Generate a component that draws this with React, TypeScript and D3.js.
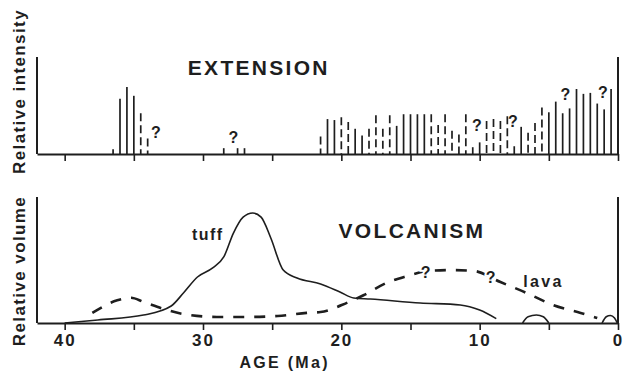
import { useEffect, useRef } from 'react';
import * as d3 from 'd3';

const WIDTH = 623;
const HEIGHT = 372;

// Extension events: age (Ma), relative intensity, uncertain record (drawn dashed)
const extensionAges = [
  36.5, 36, 35.5, 35, 34.5, 34, 28.5, 27.5, 27,
  21.5, 21, 20.5, 20, 19.5, 19, 18.5, 18, 17.5, 17,
  16.5, 16, 15.5, 15, 14.5, 14, 13.5, 13, 12.5, 12,
  11.5, 11, 10.5, 10, 9.5, 9, 8.5, 8, 7.5, 7,
  6.5, 6, 5.5, 5, 4.5, 4, 3.5, 3, 2.5, 2, 1.5, 1, 0.5,
];
const extensionIntensity = [
  5, 57, 69, 60, 42, 16, 6, 6, 6,
  18, 36, 35, 38, 33, 26, 19, 26, 40, 26,
  40, 29, 41, 41, 41, 41, 41, 30, 41, 24,
  20, 41, 7, 12, 34, 36, 34, 39, 8, 28,
  22, 32, 48, 43, 54, 42, 47, 67, 62, 63, 52, 46, 67,
];
const extensionUncertain = [
  0, 0, 0, 0, 1, 1, 0, 0, 0,
  1, 0, 0, 1, 1, 0, 0, 1, 1, 1,
  1, 0, 0, 0, 0, 0, 1, 1, 1, 1,
  1, 1, 0, 0, 1, 1, 1, 1, 0, 0,
  1, 1, 1, 0, 0, 0, 0, 0, 0, 0, 0, 0, 0,
];
// "?" marks over the extension record: [age, intensity]
const extensionQueries: [number, number][] = [
  [33.4, 22], [27.8, 17], [10.2, 29], [7.6, 34], [3.8, 61], [1.1, 63],
];

// Volcanism: tuff (solid) and lava (dashed), relative volume
const tuffAges = [40, 37.6, 34.3, 32.3, 31.4, 30.4, 29.3, 28.5, 27.8, 27.1, 26.4, 25.8, 25.1, 24.2, 23.2, 21.5, 20.1, 19.1, 17.9, 14.3, 11.4, 10, 8.8];
const tuffVolume = [0, 2.4, 6.3, 13.5, 24, 36.5, 43.7, 52.4, 71.4, 84, 87.3, 84, 67.5, 42, 35.7, 31, 24.6, 19.8, 19, 15.9, 14.3, 10.3, 3.5];

const lavaAges = [38, 36.2, 35.2, 34.3, 32.8, 31.4, 29, 26.8, 24.6, 22.5, 21.5, 19.6, 18.4, 16.7, 15.3, 13.6, 11.9, 10.4, 8.5, 6.6, 4.7, 2.7, 1.5];
const lavaVolume = [8, 18, 20, 16.7, 11, 7, 4.8, 4.8, 5.6, 8, 8.7, 16, 22, 32, 37, 41.5, 42, 41.3, 32.5, 23.8, 14.3, 8, 4];

// small young flows (solid arcs)
const flowA_Ages = [6.9, 6.5, 5.9, 5.4, 5.0];
const flowA_Volume = [0, 5, 6.3, 5, 0];
const flowB_Ages = [1.15, 0.85, 0.55, 0.25, 0.05];
const flowB_Volume = [0, 5, 6, 4, 0];

const volcanismQueries: [number, number][] = [[13.9, 40], [9.2, 36]];

const ageTicks = [40, 35, 30, 25, 20, 15, 10, 5, 0];
const ageLabels = [40, 30, 20, 10, 0];

const FONT = '"Liberation Sans", Arial, Helvetica, sans-serif';
const INK = '#1e1e1e';

export default function App() {
  const svgRef = useRef<SVGSVGElement>(null);

  useEffect(() => {
    if (!svgRef.current) return;
    const svg = d3.select(svgRef.current);
    svg.selectAll('*').remove();

    const x = d3.scaleLinear().domain([42, 0]).range([37, 618]);
    const yTop = d3.scaleLinear().domain([0, 100]).range([154, 57]);
    const yBot = d3.scaleLinear().domain([0, 100]).range([323, 197]);

    // ---------- top panel: EXTENSION ----------
    const top = svg.append('g');

    top
      .selectAll('.bar')
      .data(extensionAges.map((a, i) => ({ age: a, v: extensionIntensity[i], u: extensionUncertain[i] })))
      .enter()
      .append('line')
      .attr('x1', (d) => x(d.age))
      .attr('x2', (d) => x(d.age))
      .attr('y1', (d) => yTop(d.v))
      .attr('y2', yTop(0))
      .style('stroke', INK)
      .style('stroke-width', 1.7)
      .style('stroke-dasharray', (d) => (d.u ? '8,4' : null));

    const topAxis = top
      .append('g')
      .attr('transform', `translate(0, ${yTop(0)})`)
      .call(d3.axisBottom(x).tickValues(ageTicks).tickSize(7).tickSizeOuter(0).tickFormat(() => ''));
    topAxis.select('.domain').style('stroke', INK).style('stroke-width', 2);
    topAxis.selectAll('.tick line').style('stroke', INK).style('stroke-width', 1.6);

    // side frame lines
    [x.range()[0], x.range()[1]].forEach((px) => {
      top
        .append('line')
        .attr('x1', px)
        .attr('x2', px)
        .attr('y1', yTop(100))
        .attr('y2', yTop(0))
        .style('stroke', INK)
        .style('stroke-width', 2);
    });

    top
      .selectAll('.q')
      .data(extensionQueries)
      .enter()
      .append('text')
      .attr('x', (d) => x(d[0]))
      .attr('y', (d) => yTop(d[1]))
      .attr('dy', '0.35em')
      .style('text-anchor', 'middle')
      .style('font-family', FONT)
      .style('font-weight', 'bold')
      .style('font-size', '16px')
      .style('fill', INK)
      .text('?');

    top
      .append('text')
      .attr('x', x(31.1))
      .attr('y', yTop(81))
      .style('font-family', FONT)
      .style('font-weight', 'bold')
      .style('font-size', '21px')
      .style('letter-spacing', '2.3px')
      .style('fill', INK)
      .text('EXTENSION');

    top
      .append('text')
      .attr('transform', `translate(25, ${(yTop(0) + yTop(100)) / 2 - 14}) rotate(-90)`)
      .style('text-anchor', 'middle')
      .style('font-family', FONT)
      .style('font-weight', 'bold')
      .style('font-size', '17px')
      .style('letter-spacing', '1.4px')
      .style('fill', INK)
      .text('Relative intensity');

    // ---------- bottom panel: VOLCANISM ----------
    const bot = svg.append('g');

    // ages run right-to-left, so feed the curve with -age to keep x increasing
    const zip = (a: number[], b: number[]) => a.map((v, i) => [-v, b[i]] as [number, number]);
    const lineAge = d3
      .line<[number, number]>()
      .x((d) => x(-d[0]))
      .y((d) => yBot(d[1]))
      .curve(d3.curveMonotoneX);

    bot
      .append('path')
      .attr('d', lineAge(zip(lavaAges, lavaVolume)))
      .style('fill', 'none')
      .style('stroke', INK)
      .style('stroke-width', 2.6)
      .style('stroke-dasharray', '11,10');

    [
      [tuffAges, tuffVolume],
      [flowA_Ages, flowA_Volume],
      [flowB_Ages, flowB_Volume],
    ].forEach(([a, v]) => {
      bot
        .append('path')
        .attr('d', lineAge(zip(a, v)))
        .style('fill', 'none')
        .style('stroke', INK)
        .style('stroke-width', 1.6);
    });

    const botAxis = bot
      .append('g')
      .attr('transform', `translate(0, ${yBot(0)})`)
      .call(
        d3
          .axisBottom(x)
          .tickValues(ageTicks)
          .tickSize(7)
          .tickSizeOuter(0)
          .tickFormat((d) => (ageLabels.includes(d as number) ? String(d) : ''))
      );
    botAxis.select('.domain').style('stroke', INK).style('stroke-width', 2);
    botAxis.selectAll('.tick line').style('stroke', INK).style('stroke-width', 1.6);
    botAxis
      .selectAll('.tick text')
      .attr('y', 11)
      .style('font-family', FONT)
      .style('font-weight', 'bold')
      .style('font-size', '17px')
      .style('letter-spacing', '2px')
      .style('fill', INK);

    [x.range()[0], x.range()[1]].forEach((px) => {
      bot
        .append('line')
        .attr('x1', px)
        .attr('x2', px)
        .attr('y1', yBot(100))
        .attr('y2', yBot(0))
        .style('stroke', INK)
        .style('stroke-width', 2);
    });

    bot
      .selectAll('.q')
      .data(volcanismQueries)
      .enter()
      .append('text')
      .attr('x', (d) => x(d[0]))
      .attr('y', (d) => yBot(d[1]))
      .attr('dy', '0.35em')
      .style('text-anchor', 'middle')
      .style('font-family', FONT)
      .style('font-weight', 'bold')
      .style('font-size', '16px')
      .style('fill', INK)
      .style('stroke', '#fff')
      .style('stroke-width', 4)
      .style('paint-order', 'stroke')
      .text('?');

    bot
      .append('text')
      .attr('x', x(20.2))
      .attr('y', yBot(67.5))
      .style('font-family', FONT)
      .style('font-weight', 'bold')
      .style('font-size', '21px')
      .style('letter-spacing', '2.3px')
      .style('fill', INK)
      .text('VOLCANISM');

    bot
      .append('text')
      .attr('x', x(30.8))
      .attr('y', yBot(65.5))
      .style('font-family', FONT)
      .style('font-weight', 'bold')
      .style('font-size', '16px')
      .style('letter-spacing', '1.5px')
      .style('fill', INK)
      .text('tuff');

    bot
      .append('text')
      .attr('x', x(6.85))
      .attr('y', yBot(28.5))
      .style('font-family', FONT)
      .style('font-weight', 'bold')
      .style('font-size', '16px')
      .style('letter-spacing', '2.3px')
      .style('fill', INK)
      .text('lava');

    bot
      .append('text')
      .attr('transform', `translate(25, ${(yBot(0) + yBot(100)) / 2 + 11}) rotate(-90)`)
      .style('text-anchor', 'middle')
      .style('font-family', FONT)
      .style('font-weight', 'bold')
      .style('font-size', '17px')
      .style('letter-spacing', '1.4px')
      .style('fill', INK)
      .text('Relative volume');

    bot
      .append('text')
      .attr('x', x(24.1))
      .attr('y', 368)
      .style('text-anchor', 'middle')
      .style('font-family', FONT)
      .style('font-weight', 'bold')
      .style('font-size', '16px')
      .style('letter-spacing', '2.3px')
      .style('fill', INK)
      .text('AGE (Ma)');
  }, []);

  return (
    <svg
      ref={svgRef}
      width={WIDTH}
      height={HEIGHT}
      style={{ position: 'absolute', left: 0, top: 0, background: '#fff' }}
    />
  );
}
